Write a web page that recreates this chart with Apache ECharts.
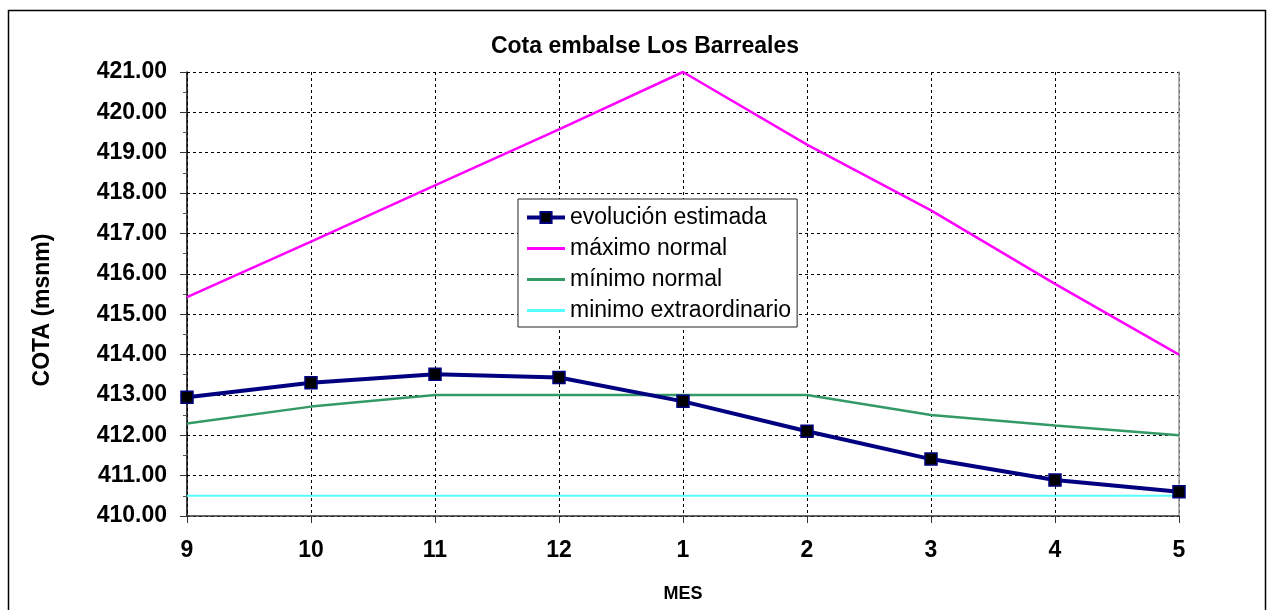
<!DOCTYPE html>
<html>
<head>
<meta charset="utf-8">
<script src="https://cdn.jsdelivr.net/npm/echarts@6/dist/echarts.min.js"></script>
<style>
html,body{margin:0;padding:0;background:#fff;}
#chart{width:1268px;height:610px;}
</style>
</head>
<body>
<div id="chart"></div>
<script>
var months = ['9','10','11','12','1','2','3','4','5'];
var evolucion = [412.94, 413.30, 413.51, 413.43, 412.84, 412.10, 411.41, 410.89, 410.60];
var maximoNormal = [415.42, 416.80, 418.19, 419.58, 421.00, 419.20, 417.57, 415.75, 414.00];
var minimoNormal = [412.29, 412.71, 413.00, 413.00, 413.00, 413.00, 412.50, 412.24, 412.00];
var minimoExtra = [410.50, 410.50, 410.50, 410.50, 410.50, 410.50, 410.50, 410.50, 410.50];
var yMin = 410, yMax = 421, yStep = 1;

var FONT = '"Liberation Sans", Arial, sans-serif';
var LINE_ICON = 'path://M0,0H40V3H0Z';
var chart = echarts.init(document.getElementById('chart'));
var dashed = {color: '#000', width: 1, type: [3, 3]};
chart.setOption({
  animation: false,
  backgroundColor: '#fff',
  textStyle: {fontFamily: FONT},
  title: {
    text: 'Cota embalse Los Barreales',
    left: 640, top: 30, textAlign: 'center',
    textStyle: {fontFamily: FONT, fontWeight: 'bold', fontSize: 23, color: '#000'}
  },
  graphic: [{
    type: 'rect', shape: {x: 8.5, y: 10.5, width: 1257, height: 610},
    style: {fill: 'none', stroke: '#000', lineWidth: 1.5}, z: 100, silent: true
  }],
  grid: {left: 187, right: 89, top: 72, bottom: 94, containLabel: false},
  legend: {
    orient: 'vertical', left: 518, top: 199,
    backgroundColor: '#fff', borderColor: '#222', borderWidth: 1,
    padding: [7, 6, 5, 7], itemGap: 8, itemWidth: 38, itemHeight: 14,
    textStyle: {fontFamily: FONT, fontSize: 23, color: '#000'},
    data: [
      {name: 'evolución estimada', lineStyle: {width: 4, color: '#000080'}},
      {name: 'máximo normal', icon: LINE_ICON},
      {name: 'mínimo normal', icon: LINE_ICON},
      {name: 'minimo extraordinario', icon: LINE_ICON}
    ]
  },
  xAxis: {
    type: 'category', data: months, boundaryGap: false,
    name: 'MES', nameLocation: 'middle', nameGap: 69,
    nameTextStyle: {fontFamily: FONT, fontWeight: 'bold', fontSize: 18, color: '#000'},
    axisLine: {lineStyle: {color: '#333', width: 1.5}},
    axisTick: {show: true, length: 7, lineStyle: {color: '#333'}},
    axisLabel: {margin: 23, fontFamily: FONT, fontWeight: 'bold', fontSize: 23, color: '#000'},
    splitLine: {show: true, lineStyle: dashed}
  },
  yAxis: [{
    type: 'value', min: yMin, max: yMax, interval: yStep,
    name: 'COTA (msnm)', nameLocation: 'middle', nameGap: 133, nameRotate: 90,
    nameTextStyle: {fontFamily: FONT, fontWeight: 'bold', fontSize: 23, color: '#000',
      padding: [0, 32, 0, 0]},
    axisLine: {show: true, lineStyle: {color: '#000', width: 1.5}},
    axisTick: {show: true, length: 7, lineStyle: {color: '#333'}},
    minorTick: {show: true, splitNumber: 2, length: 4, lineStyle: {color: '#555'}},
    axisLabel: {margin: 20, fontFamily: FONT, fontWeight: 'bold', fontSize: 23, color: '#000',
      formatter: function (v) { return v.toFixed(2); }},
    splitLine: {show: true, lineStyle: dashed}
  }, {
    type: 'value', min: yMin, max: yMax, interval: yStep, position: 'right',
    axisLine: {show: true, lineStyle: {color: '#999', width: 1.5}},
    axisTick: {show: false}, axisLabel: {show: false}, splitLine: {show: false}
  }],
  series: [{
    name: 'evolución estimada', type: 'line', data: evolucion, z: 5,
    symbol: 'rect', symbolSize: 12, showSymbol: true,
    lineStyle: {color: '#000080', width: 4},
    itemStyle: {color: '#000', borderColor: '#000080', borderWidth: 1.5}
  }, {
    name: 'máximo normal', type: 'line', data: maximoNormal, symbol: 'none',
    lineStyle: {color: '#ff00ff', width: 2.5}, itemStyle: {color: '#ff00ff'}
  }, {
    name: 'mínimo normal', type: 'line', data: minimoNormal, symbol: 'none',
    lineStyle: {color: '#339966', width: 2.5}, itemStyle: {color: '#339966'}
  }, {
    name: 'minimo extraordinario', type: 'line', data: minimoExtra, symbol: 'none',
    lineStyle: {color: '#55ffff', width: 2}, itemStyle: {color: '#55ffff'}
  }]
});
</script>
</body>
</html>
